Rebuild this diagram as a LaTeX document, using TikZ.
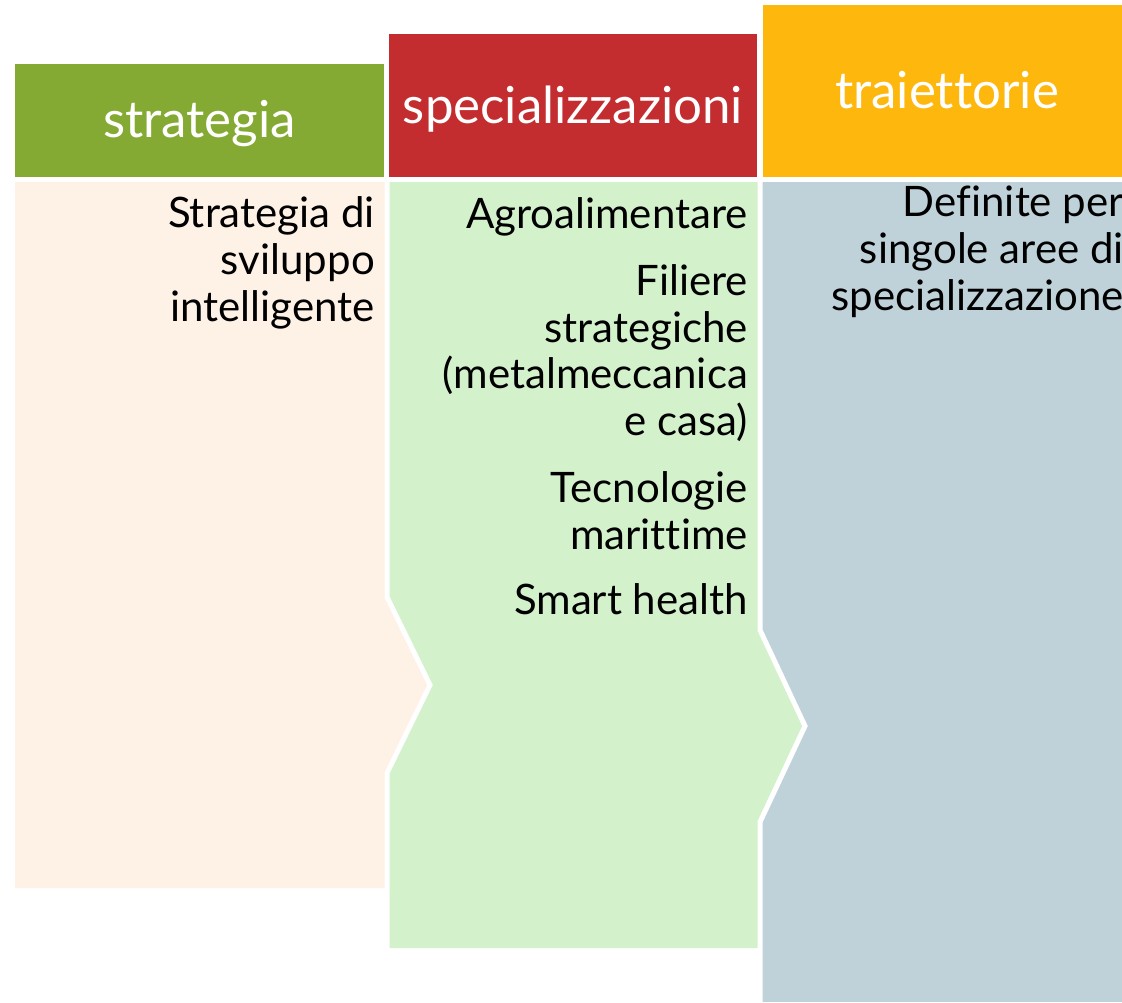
\documentclass[tikz,border=0pt]{standalone}
\usepackage{fontspec}
\setmainfont{Lato}[Ligatures=NoCommon]
\definecolor{hgreen}{HTML}{84AA33}
\definecolor{hred}{HTML}{C32D30}
\definecolor{horange}{HTML}{FDB70D}
\definecolor{bpeach}{HTML}{FEF1E6}
\definecolor{bgreen}{HTML}{D3F2CC}
\definecolor{bblue}{HTML}{BFD2DA}
\tikzset{
  hdrtext/.style={text=white, inner sep=0pt, anchor=base, font=\fontsize{51}{56}\selectfont},
  bodyline/.style={text=black, inner sep=0pt, anchor=base east, font=\fontsize{42}{47}\selectfont},
  sep/.style={draw=white, line width=5pt, line join=miter}
}
\begin{document}
\begin{tikzpicture}[x=1pt,y=-1pt]
\useasboundingbox (0,0) rectangle (1122,1002);
\clip (0,0) rectangle (1122,1002);
\fill[white] (0,0) rectangle (1122,1002);
% headers
\fill[hgreen] (15,64) rectangle (384,177);
\fill[hred] (389,34) rectangle (757,177);
\fill[horange] (763,5) rectangle (1140,177);
\node[hdrtext] (h1) at (199.5,137) {strategia};
\node[hdrtext] (h2) at (573,123) {specializzazioni};
\node[hdrtext] (h3) at (947,108) {traiettorie};
% bodies
\fill[bblue] (760,182) rectangle (1140,1002);
\fill[bgreen] (387,182) -- (760,182) -- (760,630) -- (805,726) -- (760,822) -- (760,948) -- (387,948) -- cycle;
\fill[bpeach] (15,182) -- (387,182) -- (387,597) -- (430,685) -- (387,773) -- (387,888) -- (15,888) -- cycle;
\draw[sep] (387,177) -- (387,597) -- (430,685) -- (387,773) -- (387,1010);
\draw[sep] (760,177) -- (760,630) -- (805,726) -- (760,822) -- (760,1010);
% column 1 text
\node[bodyline] (a1) at (375,227) {Strategia di};
\node[bodyline] (a2) at (375,274) {sviluppo};
\node[bodyline] (a3) at (375,321) {intelligente};
% column 2 text
\node[bodyline] (b1) at (748,228) {Agroalimentare};
\node[bodyline] (b2) at (748,295) {Filiere};
\node[bodyline] (b3) at (748,342) {strategiche};
\node[bodyline] (b4) at (748,388) {(metalmeccanica};
\node[bodyline] (b5) at (748,435) {e casa)};
\node[bodyline] (b6) at (748,502) {Tecnologie};
\node[bodyline] (b7) at (748,549) {marittime};
\node[bodyline] (b8) at (748,614) {Smart health};
% column 3 text
\node[bodyline] (c1) at (1124,216) {Definite per};
\node[bodyline] (c2) at (1124,263) {singole aree di};
\node[bodyline] (c3) at (1124,310) {specializzazione};
\end{tikzpicture}
\end{document}
